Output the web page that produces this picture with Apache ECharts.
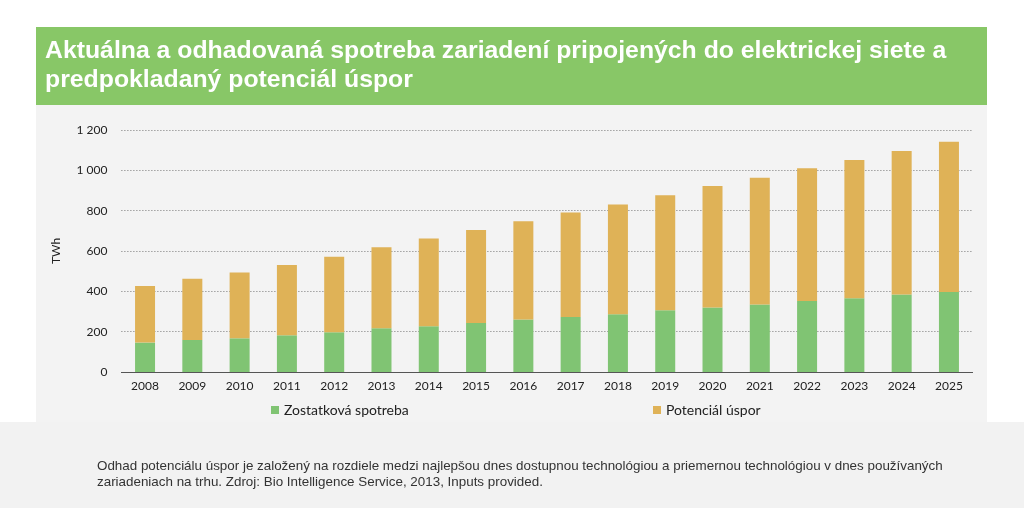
<!DOCTYPE html>
<html><head><meta charset="utf-8">
<script src="https://cdn.jsdelivr.net/npm/echarts@6/dist/echarts.min.js"></script>
<style>html,body{margin:0;padding:0;background:#fff}#c{width:1024px;height:508px}</style>
</head><body><div id="c"></div>
<script>
const years = ['2008','2009','2010','2011','2012','2013','2014','2015','2016','2017','2018','2019','2020','2021','2022','2023','2024','2025'];
const residual = [146,159,167,182,197,217,227,243,260,273,286,306,320,335,352,366,384,397];
const savings = [280,303,327,348,374,401,435,461,488,518,545,571,602,628,658,685,712,745];
const yTicks = [0,200,400,600,800,1000,1200];
const titleText = 'Aktuálna a odhadovaná spotreba zariadení pripojených do elektrickej siete a\npredpokladaný potenciál úspor';
const noteText = 'Odhad potenciálu úspor je založený na rozdiele medzi najlepšou dnes dostupnou technológiou a priemernou technológiou v dnes používaných\nzariadeniach na trhu. Zdroj: Bio Intelligence Service, 2013, Inputs provided.';
const seriesNames = ['Zostatková spotreba','Potenciál úspor'];

const chart = echarts.init(document.getElementById('c'), null, {renderer:'canvas'});
const tickFont = 'Lato, "Open Sans", sans-serif';
chart.setOption({
  animation:false,
  backgroundColor:'#ffffff',
  title:{
    text:titleText, left:40, top:32,
    textStyle:{color:'#ffffff', fontSize:24.8, fontWeight:'bold', fontFamily:'"Liberation Sans", Arial, sans-serif', lineHeight:29}
  },
  graphic:[
    {type:'rect', z:-10, shape:{x:36,y:105,width:951,height:317}, style:{fill:'#f3f3f3'}},
    {type:'rect', z:-10, shape:{x:0,y:422,width:1024,height:86}, style:{fill:'#f2f2f2'}},
    {type:'rect', z:-10, shape:{x:36,y:27,width:951,height:78}, style:{fill:'#88c767'}},
    {type:'text', left:97, top:458, style:{text:noteText, fill:'#333333', font:'13.4px "Liberation Sans", Arial, sans-serif', lineHeight:16}}
  ],
  legend:[
    {data:[seriesNames[0]], left:266, top:398, itemWidth:8, itemHeight:8, itemGap:6, icon:'rect',
     textStyle:{color:'#222', fontSize:14, fontFamily:tickFont}},
    {data:[seriesNames[1]], left:648, top:398, itemWidth:8, itemHeight:8, itemGap:6, icon:'rect',
     textStyle:{color:'#222', fontSize:14, fontFamily:tickFont}}
  ],
  grid:{left:121.4, right:51.4, top:130, bottom:136, containLabel:false},
  xAxis:{
    type:'category', data:years,
    axisLine:{lineStyle:{color:'#555555', width:1}},
    axisTick:{show:false},
    axisLabel:{color:'#222222', fontSize:12, fontFamily:tickFont, margin:8}
  },
  yAxis:{
    type:'value', min:yTicks[0], max:yTicks[yTicks.length-1], interval:200,
    name:'TWh', nameLocation:'middle', nameGap:59, nameRotate:90,
    nameTextStyle:{color:'#222', fontSize:12, fontFamily:tickFont},
    axisLine:{show:false}, axisTick:{show:false},
    axisLabel:{color:'#222222', fontSize:12, fontFamily:tickFont, margin:14,
      formatter:v=>String(v).replace(/\B(?=(\d{3})+(?!\d))/g,' ')},
    splitLine:{lineStyle:{color:'#777777', type:[1,2], width:1}}
  },
  series:[
    {name:seriesNames[0], type:'bar', stack:'t', data:residual, barWidth:20, itemStyle:{color:'#80c473'}},
    {name:seriesNames[1], type:'bar', stack:'t', data:savings, barWidth:20, itemStyle:{color:'#dfb257'}}
  ]
});
</script></body></html>
